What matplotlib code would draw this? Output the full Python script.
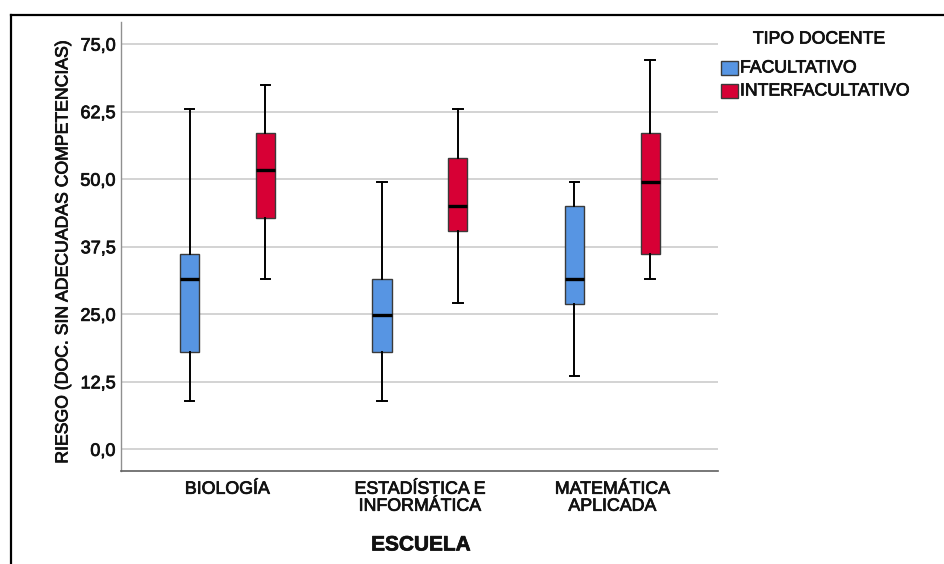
import matplotlib
matplotlib.use("Agg")
import matplotlib.pyplot as plt
import matplotlib.patheffects as pe
from matplotlib.patches import Rectangle
from matplotlib.lines import Line2D

plt.rcParams['font.family'] = ['Liberation Sans', 'DejaVu Sans']

categories = ["BIOLOGÍA", "ESTADÍSTICA E\nINFORMÁTICA", "MATEMÁTICA\nAPLICADA"]
series = ["FACULTATIVO", "INTERFACULTATIVO"]

fac_whislo = [9.0, 9.0, 13.6]
fac_q1 = [18.1, 18.1, 27.0]
fac_med = [31.6, 24.8, 31.6]
fac_q3 = [36.1, 31.6, 45.1]
fac_whishi = [63.0, 49.5, 49.5]

int_whislo = [31.6, 27.1, 31.6]
int_q1 = [42.9, 40.5, 36.1]
int_med = [51.8, 45.0, 49.5]
int_q3 = [58.6, 54.0, 58.5]
int_whishi = [67.5, 63.0, 72.0]

yticks = [0.0, 12.5, 25.0, 37.5, 50.0, 62.5, 75.0]
ytick_labels = ["0,0", "12,5", "25,0", "37,5", "50,0", "62,5", "75,0"]

colors = ["#5795E3", "#D70035"]

TXT = '#111111'
heavy = [pe.withStroke(linewidth=0.55, foreground=TXT)]

W, H = 944, 564
fig = plt.figure(figsize=(W/100, H/100), dpi=100)
ax = fig.add_axes([121/W, 1-471/H, (718-121)/W, (471-22)/H])

def fx(px):
    return px / W

def fy(py):
    return 1 - py / H

def stats(lo, q1, med, q3, hi):
    return [dict(whislo=a, q1=b, med=c, q3=d, whishi=e, fliers=[])
            for a, b, c, d, e in zip(lo, q1, med, q3, hi)]

groups = [stats(fac_whislo, fac_q1, fac_med, fac_q3, fac_whishi),
          stats(int_whislo, int_q1, int_med, int_q3, int_whishi)]
offsets = [-0.197, 0.197]
for st, off, col in zip(groups, offsets, colors):
    pos = [i + off for i in range(len(categories))]
    ax.bxp(st, positions=pos, widths=0.1, patch_artist=True, showfliers=False,
           boxprops=dict(facecolor=col, edgecolor="#3a3a3a", linewidth=1.0),
           medianprops=dict(color="black", linewidth=2.4, solid_capstyle='butt'),
           whiskerprops=dict(color="black", linewidth=1.4),
           capprops=dict(color="black", linewidth=1.4),
           capwidths=0.05, zorder=3)

ax.set_xlim(-0.553, 2.549)
ax.set_ylim(-4.0, 79.1)
ax.set_yticks(yticks)
ax.set_yticklabels(ytick_labels, fontsize=13)
ax.set_xticks(range(len(categories)))
ax.set_xticklabels(categories, fontsize=12.8, linespacing=1.0)
ax.tick_params(axis='both', length=0, colors=TXT)
ax.tick_params(axis='x', pad=7)
ax.tick_params(axis='y', pad=4)
for lab in ax.get_xticklabels() + ax.get_yticklabels():
    lab.set_path_effects(heavy)
ax.grid(axis='y', color='#d0d0d0', linewidth=1.3, zorder=0)
ax.set_axisbelow(True)
for s in ['top', 'right']:
    ax.spines[s].set_visible(False)
ax.spines['left'].set_color('#909090')
ax.spines['bottom'].set_color('#606060')
ax.spines['left'].set_linewidth(1.0)
ax.spines['bottom'].set_linewidth(1.2)

fig.text(fx(63), fy(252), "RIESGO (DOC. SIN ADECUADAS COMPETENCIAS)", rotation=90,
         ha='center', va='center', fontsize=12.7, color=TXT, path_effects=heavy)
fig.text(fx(421), fy(545), "ESCUELA", ha='center', va='center', fontsize=15,
         fontweight='bold', color=TXT,
         path_effects=[pe.withStroke(linewidth=0.5, foreground=TXT)])

# legend
fig.text(fx(819), fy(39), "TIPO DOCENTE", ha='center', va='center', fontsize=12.7,
         color=TXT, path_effects=heavy)
for i, (name, col) in enumerate(zip(series, colors)):
    yc = 68 + i * 23
    fig.add_artist(Rectangle((fx(721), fy(yc + 7)), fx(17), 14 / H,
                             transform=fig.transFigure, facecolor=col,
                             edgecolor="#3a3a3a", linewidth=1.0))
    fig.text(fx(740), fy(yc), name, ha='left', va='center', fontsize=12.7,
             color=TXT, path_effects=heavy)

# outer frame
fig.add_artist(Line2D([fx(11), fx(11)], [0, fy(15)], transform=fig.transFigure,
                      color='black', linewidth=1.6))
fig.add_artist(Line2D([fx(11), 1], [fy(15), fy(15)], transform=fig.transFigure,
                      color='black', linewidth=1.6))

fig.savefig("out.png", dpi=100)
